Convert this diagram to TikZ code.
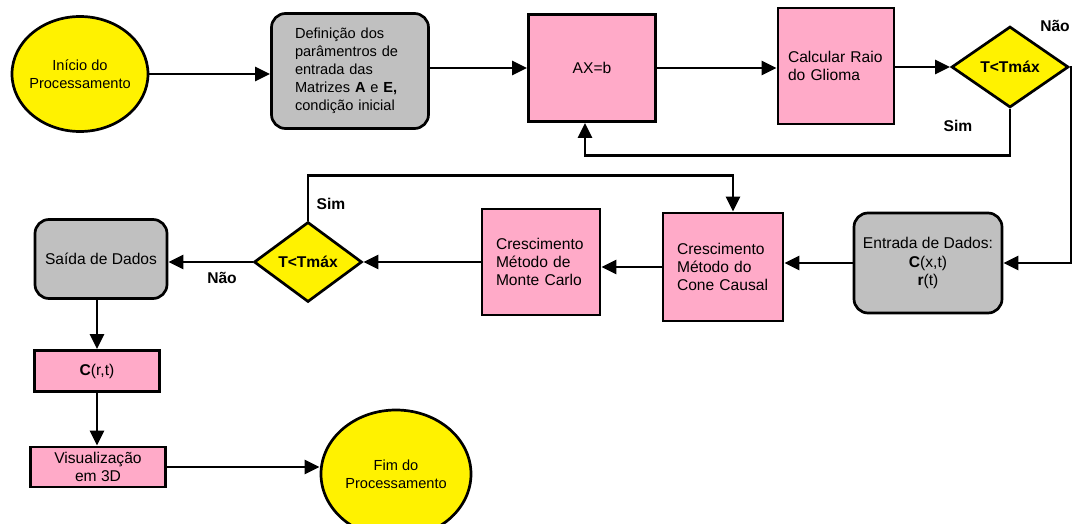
\documentclass[tikz,border=0pt]{standalone}
\usepackage{fontspec}
\setmainfont{Liberation Sans}
\usepackage{xcolor}
\usetikzlibrary{shapes.geometric, arrows.meta}
\definecolor{flowyellow}{RGB}{255,242,0}
\definecolor{flowpink}{RGB}{255,170,200}
\definecolor{flowgray}{RGB}{192,192,192}
\newcommand{\flowfont}{\fontsize{15.6}{18.2}\selectfont}
\newcommand{\smallflowfont}{\fontsize{14.6}{18}\selectfont}

\begin{document}
\begin{tikzpicture}[x=1pt, y=-1pt]
            % Block styles
            \tikzstyle{block} = [rectangle, draw, fill=flowpink, line width=2.7pt, inner sep=0pt, font=\flowfont]
            \tikzstyle{block_gray} = [rectangle, draw, rounded corners=14pt, fill=flowgray, line width=2.7pt, inner sep=0pt, font=\flowfont]
            \tikzstyle{terminal} = [ellipse, draw, fill=flowyellow, line width=2.7pt, inner sep=0pt, align=center, font=\smallflowfont]
            \tikzstyle{decision} = [diamond, draw, fill=flowyellow, line width=2.7pt, inner sep=0pt, aspect=1.4, font=\bfseries\flowfont]
            \tikzstyle{connector} = [line width=2.7pt, -{Triangle[length=15pt, width=14pt]}]
            \tikzstyle{answer} = [font=\bfseries\flowfont]
            \useasboundingbox (0,0) rectangle (1074,524);
            % First row
            \node[terminal, minimum width=136pt, minimum height=115pt, inner xsep=-7pt] (inicio) at (80,74) {Início do\\Processamento};
            \node[block_gray, minimum width=157pt, minimum height=115pt, text width=110pt, align=left, font=\smallflowfont] (definicao) at (350,71) {Definição dos\\parâmentros de\\entrada das\\Matrizes \textbf{A} e \textbf{E,}\\condição inicial};
            \node[block, minimum width=127pt, minimum height=107pt] (axb) at (592,68) {AX=b};
            \node[block, minimum width=116pt, minimum height=116pt, text width=96pt, align=left] (raio) at (836,66) {Calcular Raio\\do Glioma};
            \node[decision, minimum width=117pt, minimum height=81pt] (tmax_a) at (1010,67) {T<Tmáx};
            % Second row
            \node[block_gray, minimum width=148pt, minimum height=100pt, align=center] (entrada) at (928,263) {Entrada de Dados:\\\textbf{C}(x,t)\\\textbf{r}(t)};
            \node[block, minimum width=120pt, minimum height=108pt, text width=92pt, align=left] (cone) at (723,267) {Crescimento\\Método do\\Cone Causal};
            \node[block, minimum width=118pt, minimum height=106pt, text width=90pt, align=left] (monte) at (541,262) {Crescimento\\Método de\\Monte Carlo};
            \node[decision, minimum width=108pt, minimum height=80pt] (tmax_b) at (308,262) {T<Tmáx};
            \node[block_gray, minimum width=132pt, minimum height=79pt] (saida) at (101,259) {Saída de Dados};
            % Output column
            \node[block, minimum width=125pt, minimum height=41pt] (concentracao) at (97,371) {\textbf{C}(r,t)};
            \node[block, minimum width=135pt, minimum height=40pt, align=center] (visual) at (98,467) {Visualização\\em 3D};
            \node[terminal, minimum width=150pt, minimum height=128pt, inner xsep=-2pt] (fim) at (396,474) {Fim do\\Processamento};
            % Answers
            \node[answer] (nao_a) at (1055,26) {Não};
            \node[answer] (sim_a) at (958,126) {Sim};
            \node[answer] (sim_b) at (331,204) {Sim};
            \node[answer] (nao_b) at (222,278) {Não};
            % Connections
            \draw[connector] (inicio.east) -- (inicio.east -| definicao.west);
            \draw[connector] (axb.west -| definicao.east) -- (axb.west);
            \draw[connector] (axb.east) -- (axb.east -| raio.west);
            \draw[connector] (raio.east |- tmax_a.west) -- (tmax_a.west);
            \draw[connector] (tmax_a.south) -- ++(0,47) -| ([xshift=-7pt]axb.south);
            \draw[connector] (tmax_a.east) -- ++(1,0) |- (entrada.east);
            \draw[connector] (entrada.west) -- (entrada.west -| cone.east);
            \draw[connector] (cone.west) -- (cone.west -| monte.east);
            \draw[connector] (monte.west) -- (tmax_b.east);
            \draw[connector] (tmax_b.west) -- (tmax_b.west -| saida.east);
            \draw[connector] (tmax_b.north) -- ++(0,-45) -| ([xshift=10pt]cone.north);
            \draw[connector] (concentracao.north |- saida.south) -- (concentracao.north);
            \draw[connector] (concentracao.south) -- (concentracao.south |- visual.north);
            \draw[connector] (visual.east) -- (visual.east -| fim.west);
        \end{tikzpicture}
\end{document}
